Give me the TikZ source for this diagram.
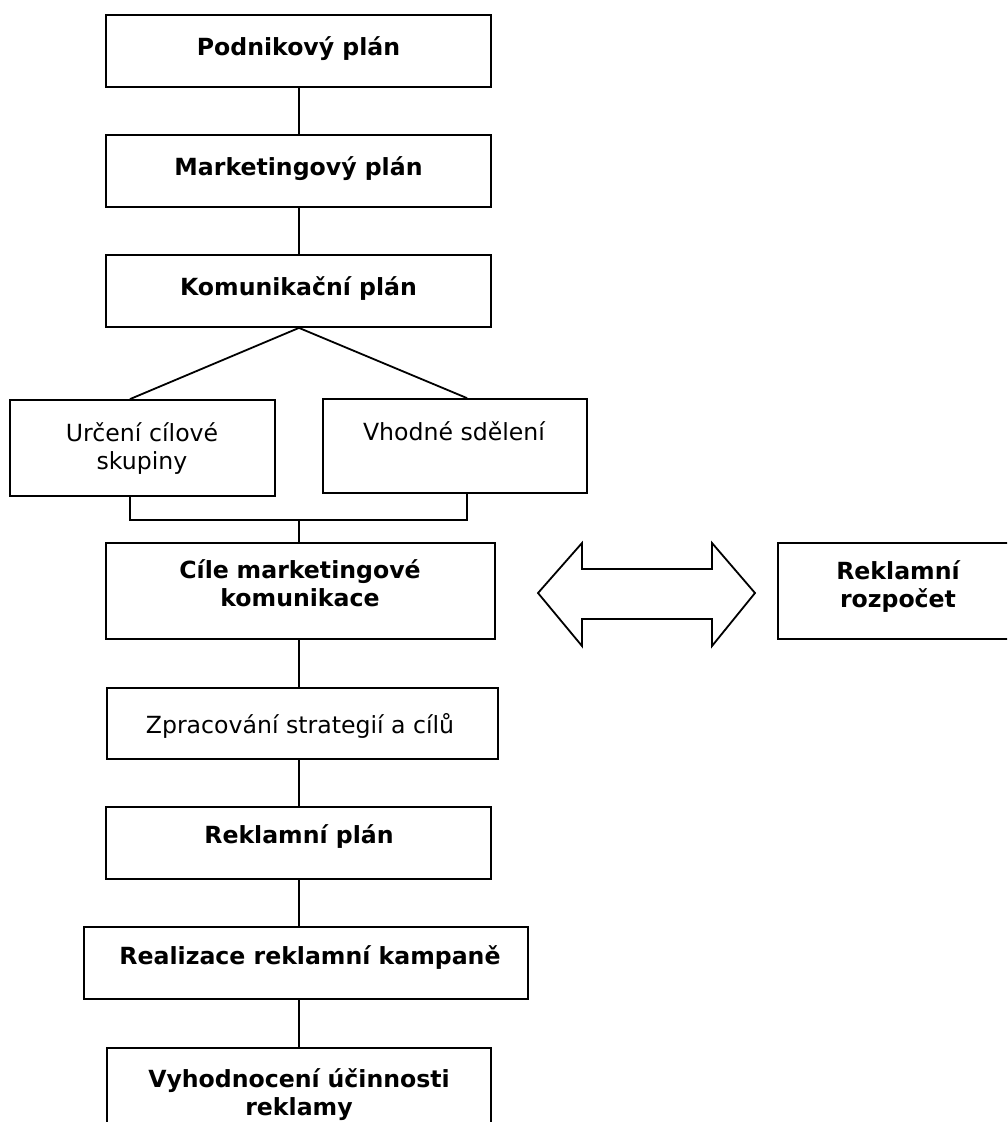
\documentclass[tikz,border=0pt]{standalone}
\usepackage{fontspec}
\setmainfont{DejaVu Sans}
\begin{document}
\begin{tikzpicture}[x=1pt,y=-1pt,
  box/.style={draw,line width=1.8pt,inner sep=0pt,rectangle},
  conn/.style={line width=1.8pt},
  lbl/.style={inner sep=0pt,anchor=base,font=\fontsize{23.6pt}{28.5pt}\selectfont},
  blbl/.style={lbl,font=\fontsize{23.6pt}{28.5pt}\selectfont\bfseries},
  mlbl/.style={text width=#1,align=center}
]
\useasboundingbox (0,0) rectangle (1007,1122);
\clip (0,0) rectangle (1007,1122);
\coordinate (ax) at (299,0);
% boxes
\node[box,minimum width=385pt,minimum height=72pt] (p1) at (298.5,51) {};
\node[box,minimum width=385pt,minimum height=72pt] (p2) at (298.5,171) {};
\node[box,minimum width=385pt,minimum height=72pt] (p3) at (298.5,291) {};
\node[box,minimum width=265pt,minimum height=96pt] (u) at (142.5,448) {};
\node[box,minimum width=264pt,minimum height=94pt] (v) at (455,446) {};
\node[box,minimum width=389pt,minimum height=96pt] (c) at (300.5,591) {};
\node[box,minimum width=240pt,minimum height=96pt] (r) at (898,591) {};
\node[box,minimum width=391pt,minimum height=71pt] (z) at (302.5,723.5) {};
\node[box,minimum width=385pt,minimum height=72pt] (rp) at (298.5,843) {};
\node[box,minimum width=444pt,minimum height=72pt] (re) at (306,963) {};
\node[box,minimum width=384pt,minimum height=102pt] (vy) at (299,1099) {};
% texts
\node[blbl] (t1) at (298.5,55) {Podnikový plán};
\node[blbl] (t2) at (298.5,175) {Marketingový plán};
\node[blbl] (t3) at (298.5,295) {Komunikační plán};
\node[lbl,mlbl=255pt] (tu) at (142,441) {Určení cílové\\skupiny};
\node[lbl] (tv) at (454,440) {Vhodné sdělení};
\node[blbl,mlbl=380pt] (tc) at (300,578) {Cíle marketingové\\komunikace};
\node[blbl,mlbl=230pt] (tr) at (898,579) {Reklamní\\rozpočet};
\node[lbl] (tz) at (300,733) {Zpracování strategií a cílů};
\node[blbl] (trp) at (299,843) {Reklamní plán};
\node[blbl] (tre) at (310,964) {Realizace reklamní kampaně};
\node[blbl,mlbl=380pt] (tvy) at (299,1087) {Vyhodnocení účinnosti\\reklamy};
% connectors
\draw[conn] (p1.south -| ax) -- (p2.north -| ax);
\draw[conn] (p2.south -| ax) -- (p3.north -| ax);
\draw[conn] (p3.south -| ax) -- ([xshift=-12.5pt]u.north);
\draw[conn] (p3.south -| ax) -- ([xshift=12pt]v.north);
\draw[conn] ([xshift=-12.5pt]u.south) -- ++(0,23) coordinate (bl) -| ([xshift=12pt]v.south);
\coordinate (j) at (bl -| ax);
\draw[conn] (j) -- (c.north -| ax);
\draw[conn] (c.south -| ax) -- (z.north -| ax);
\draw[conn] (z.south -| ax) -- (rp.north -| ax);
\draw[conn] (rp.south -| ax) -- (re.north -| ax);
\draw[conn] (re.south -| ax) -- (vy.north -| ax);
% double arrow
\draw[line width=1.8pt,line join=miter]
  (538,593) -- (582,543) -- (582,569) -- (712,569) -- (712,543) -- (755,593)
  -- (712,646) -- (712,619) -- (582,619) -- (582,646) -- cycle;
\end{tikzpicture}
\end{document}
